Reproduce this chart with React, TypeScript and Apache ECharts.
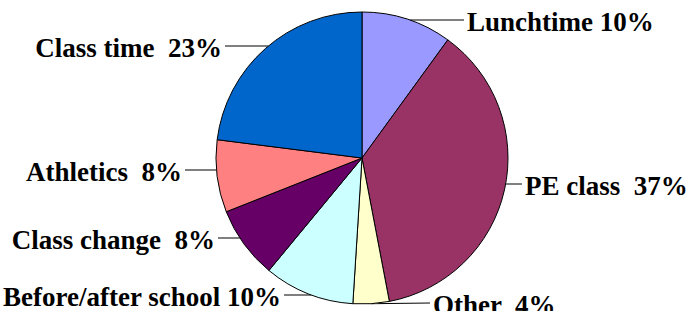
import React, { useEffect, useRef } from "react";
import * as echarts from "echarts";

const categories = [
  "Lunchtime",
  "PE class",
  "Other",
  "Before/after school",
  "Class change",
  "Athletics",
  "Class time",
];
const values = [10, 37, 4, 10, 8, 8, 23];
const labelTexts = [
  "Lunchtime 10%",
  "PE class  37%",
  "Other  4%",
  "Before/after school 10%",
  "Class change  8%",
  "Athletics  8%",
  "Class time  23%",
];
const colors = ["#9999FF", "#993366", "#FFFFCC", "#CCFFFF", "#660066", "#FF8080", "#0066CC"];

const CX = 362;
const CY = 158;
const R = 146;

// label anchor layout (position of label text edge nearest the pie)
const LABEL_ANCHORS: { x: number; y: number; align: "left" | "right" }[] = [
  { x: 467, y: 22, align: "left" },
  { x: 525, y: 186, align: "left" },
  { x: 433, y: 305, align: "left" },
  { x: 281, y: 297, align: "right" },
  { x: 215, y: 240, align: "right" },
  { x: 182, y: 172, align: "right" },
  { x: 222, y: 48, align: "right" },
];

export default function App() {
  const ref = useRef<HTMLDivElement>(null);
  useEffect(() => {
    const chart = echarts.init(ref.current!, null, { renderer: "svg" });
    chart.setOption({
      animation: false,
      backgroundColor: "#ffffff",
      series: [
        {
          type: "pie",
          center: [CX, CY],
          radius: R,
          startAngle: 90,
          clockwise: true,
          avoidLabelOverlap: false,
          data: categories.map((c, i) => ({
            name: c,
            value: values[i],
            itemStyle: { color: colors[i] },
          })),
          itemStyle: { borderColor: "#000000", borderWidth: 1 },
          label: {
            show: true,
            position: "outside",
            formatter: (p: any) => labelTexts[p.dataIndex],
            fontFamily: "Liberation Serif",
            fontWeight: "bold",
            fontSize: 27,
            color: "#000000",
          },
          labelLine: {
            show: true,
            length: 5,
            length2: 5,
            lineStyle: { color: "#000000", width: 1 },
          },
          labelLayout: (params: any) => {
            const a = LABEL_ANCHORS[params.dataIndex];
            const pts = params.labelLinePoints;
            const end = a.align === "left" ? a.x - 3 : a.x + 3;
            const ly = a.y - 2;
            const res: any = {
              x: a.x,
              y: a.y,
              align: a.align,
              verticalAlign: "middle",
            };
            const dy = ly - CY;
            let start: number[];
            if (Math.abs(dy) < R - 2) {
              const dx = Math.sqrt(R * R - dy * dy);
              start = [a.align === "left" ? CX + dx : CX - dx, ly];
            } else if (pts && pts[0]) {
              start = [pts[0][0], pts[0][1]];
            } else {
              start = [end, ly];
            }
            res.labelLinePoints = [start, [end, ly], [end, ly]];
            return res;
          },
          emphasis: { disabled: true },
        },
      ],
    });
    return () => chart.dispose();
  }, []);
  return <div ref={ref} style={{ width: 689, height: 311, position: "absolute", left: 0, top: 0 }} />;
}
